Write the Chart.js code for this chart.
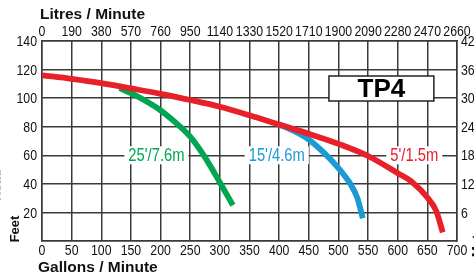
<!DOCTYPE html>
<html>
<head>
<meta charset="utf-8">
<script src="https://cdn.jsdelivr.net/npm/chart.js@4.4.0/dist/chart.umd.min.js"></script>
<style>
  html, body { margin: 0; padding: 0; background: #fff; overflow: hidden; }
  canvas { display: block; }
</style>
</head>
<body>
<canvas id="curvas" width="474" height="278"></canvas>
<script>
// --- Datos de las curvas (galones/min, pies) ---
const galones5 = [0, 50, 100, 150, 200, 250, 300, 350, 400, 450, 500, 550, 600, 625, 650, 665, 676];
const pies5 = [116, 113.5, 110.5, 106.8, 103, 98.7, 94, 88, 81.5, 75, 68, 59.5, 47.5, 41, 30.5, 21, 6];

const galones15 = [400, 425, 450, 475, 500, 520, 532, 541];
const pies15 = [81.5, 77, 71, 62, 51, 40, 30, 16];

const galones25 = [131, 150, 175, 200, 225, 250, 275, 300, 322];
const pies25 = [107, 103.5, 98, 91.5, 83, 73, 58.5, 41, 25];

const etiquetas = ["5'/1.5m", "15'/4.6m", "25'/7.6m"];
const colores = ["#e8202a", "#1b9ad6", "#00a651"];
const etiquetaGalones = [628, 396, 193];
const etiquetaPies = 60;

const galonesMax = 700, galonesPaso = 50;
const litrosMax = 2660, litrosPaso = 190;
const piesMax = 140, piesPaso = 20;
const metrosMax = 42, metrosPaso = 6;

const modelo = "TP4";
const cajaGalones = [484, 661];
const cajaPies = [98, 115.5];

const fuente = "'Liberation Sans', Arial, sans-serif";
const angosto = 0.82; // compresion horizontal para imitar la letra estrecha
const colorGrid = "#3a3a3a";

const puntos = (xs, ys) => xs.map((x, i) => ({ x: x, y: ys[i] }));

const serie = (datos, color) => ({
  data: datos,
  borderColor: color,
  borderWidth: 5.8,
  borderCapStyle: "butt",
  pointRadius: 0,
  cubicInterpolationMode: "monotone",
  fill: false
});

// texto estrecho: se comprime en x alrededor del punto de anclaje
function textoAngosto(ctx, t, x, y) {
  ctx.save();
  ctx.translate(x, y);
  ctx.scale(angosto, 1);
  ctx.fillText(t, 0, 0);
  ctx.restore();
}

// --- Textos, caja TP4, etiquetas de curvas y de ejes ---
const extras = {
  id: "extras",
  beforeDatasetsDraw(chart) {
    const { ctx, scales } = chart;
    const x = scales.x, y = scales.y;
    // caja del modelo
    const x0 = x.getPixelForValue(cajaGalones[0]), x1 = x.getPixelForValue(cajaGalones[1]);
    const y0 = y.getPixelForValue(cajaPies[1]), y1 = y.getPixelForValue(cajaPies[0]);
    ctx.save();
    ctx.fillStyle = "#fff";
    ctx.fillRect(x0, y0, x1 - x0, y1 - y0);
    ctx.strokeStyle = "#222";
    ctx.lineWidth = 1.5;
    ctx.strokeRect(x0, y0, x1 - x0, y1 - y0);
    ctx.fillStyle = "#000";
    ctx.font = "bold 26px " + fuente;
    ctx.textAlign = "center";
    ctx.textBaseline = "middle";
    ctx.fillText(modelo, (x0 + x1) / 2, (y0 + y1) / 2 + 1);

    // etiquetas de las curvas sobre la linea de 60 pies
    ctx.font = "18px " + fuente;
    etiquetas.forEach((t, i) => {
      const cx = x.getPixelForValue(etiquetaGalones[i]);
      const cy = y.getPixelForValue(etiquetaPies);
      const w = ctx.measureText(t).width * angosto;
      ctx.fillStyle = "#fff";
      ctx.fillRect(cx - w / 2 - 4, cy - 9, w + 8, 18);
      ctx.fillStyle = colores[i];
      textoAngosto(ctx, t, cx, cy + 1);
    });
    ctx.restore();
  },
  afterDraw(chart) {
    const { ctx, scales, chartArea } = chart;
    ctx.save();
    ctx.fillStyle = "#111";
    ctx.font = "15px " + fuente;
    ctx.textBaseline = "middle";

    // etiquetas de los ejes con la escala de Chart.js
    ctx.textAlign = "center";
    scales.x.ticks.forEach(tk => textoAngosto(ctx, String(tk.value), scales.x.getPixelForValue(tk.value), chartArea.bottom + 10));
    scales.x2.ticks.forEach(tk => textoAngosto(ctx, String(tk.value), scales.x2.getPixelForValue(tk.value), chartArea.top - 9));
    ctx.textAlign = "right";
    scales.y.ticks.forEach(tk => { if (tk.value) textoAngosto(ctx, String(tk.value), chartArea.left - 5, scales.y.getPixelForValue(tk.value) + 1); });
    ctx.textAlign = "left";
    scales.y2.ticks.forEach(tk => { if (tk.value) textoAngosto(ctx, String(tk.value), chartArea.right + 4, scales.y2.getPixelForValue(tk.value) + 1); });

    // titulos
    ctx.textAlign = "left";
    ctx.font = "bold 15.5px " + fuente;
    ctx.fillText("Litres / Minute", 40, 15);
    ctx.fillText("Gallons / Minute", 38, 268);
    ctx.restore();

    const vertical = (t, x, y, color) => {
      ctx.save();
      ctx.fillStyle = color;
      ctx.font = "bold 13px " + fuente;
      ctx.textAlign = "center";
      ctx.textBaseline = "middle";
      ctx.translate(x, y);
      ctx.rotate(-Math.PI / 2);
      ctx.fillText(t, 0, 0);
      ctx.restore();
    };
    vertical("Feet", 15, 229, "#111");
    vertical("Metres", 477, 236, "#111");
    vertical("Head", -3, 185, "rgba(0,0,0,0.3)");
  }
};

const sinTexto = paso => ({ stepSize: paso, display: false, autoSkip: false });

new Chart(document.getElementById("curvas"), {
  type: "line",
  data: {
    datasets: [
      serie(puntos(galones5, pies5), colores[0]),
      serie(puntos(galones15, pies15), colores[1]),
      serie(puntos(galones25, pies25), colores[2])
    ]
  },
  options: {
    responsive: false,
    animation: false,
    devicePixelRatio: 1,
    layout: { padding: 0 },
    plugins: { legend: { display: false }, tooltip: { enabled: false } },
    scales: {
      x: {
        type: "linear", position: "bottom", min: 0, max: galonesMax,
        ticks: sinTexto(galonesPaso),
        grid: { color: colorGrid, lineWidth: 1.5, drawTicks: false },
        border: { color: colorGrid, width: 1.5 },
        afterFit(s) { s.height = 37; }
      },
      x2: {
        type: "linear", position: "top", min: 0, max: litrosMax,
        ticks: sinTexto(litrosPaso),
        grid: { display: false, drawTicks: false },
        border: { color: colorGrid, width: 1.5 },
        afterFit(s) { s.height = 41; }
      },
      y: {
        type: "linear", position: "left", min: 0, max: piesMax,
        ticks: sinTexto(piesPaso),
        grid: { color: colorGrid, lineWidth: 1.5, drawTicks: false },
        border: { color: colorGrid, width: 1.5 },
        afterFit(s) { s.width = 42; }
      },
      y2: {
        type: "linear", position: "right", min: 0, max: metrosMax,
        ticks: sinTexto(metrosPaso),
        grid: { display: false, drawTicks: false },
        border: { color: colorGrid, width: 1.5 },
        afterFit(s) { s.width = 17; }
      }
    }
  },
  plugins: [extras]
});
</script>
</body>
</html>
